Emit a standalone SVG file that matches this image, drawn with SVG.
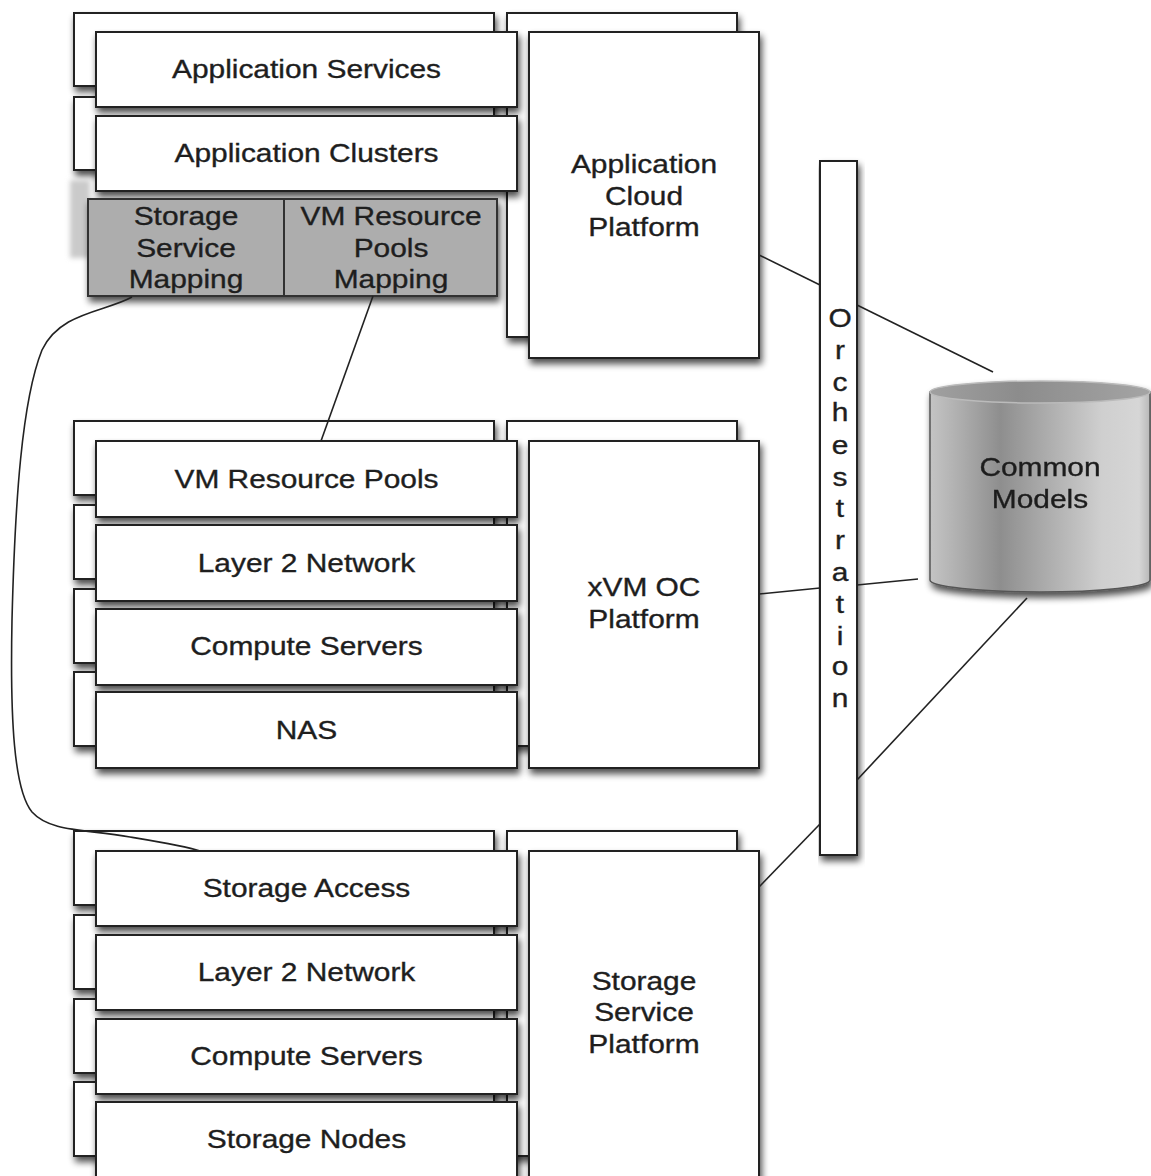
<svg xmlns="http://www.w3.org/2000/svg" width="1151" height="1176" viewBox="0 0 1151 1176">
<defs>
<filter id="sh" x="-10%" y="-10%" width="130%" height="130%">
<feGaussianBlur in="SourceAlpha" stdDeviation="3.5"/>
<feOffset dx="2" dy="5" result="o"/>
<feComponentTransfer><feFuncA type="linear" slope="0.7"/></feComponentTransfer>
<feMerge><feMergeNode/><feMergeNode in="SourceGraphic"/></feMerge>
</filter>
<filter id="blur" x="-50%" y="-20%" width="200%" height="140%"><feGaussianBlur stdDeviation="2.5"/></filter>
<linearGradient id="cyl" x1="0" y1="0" x2="1" y2="0">
<stop offset="0" stop-color="#c4c4c4"/>
<stop offset="0.1" stop-color="#b4b4b4"/>
<stop offset="0.32" stop-color="#8e8e8e"/>
<stop offset="0.5" stop-color="#a8a8a8"/>
<stop offset="0.78" stop-color="#cfcfcf"/>
<stop offset="0.95" stop-color="#d6d6d6"/>
<stop offset="1" stop-color="#b8b8b8"/>
</linearGradient>
<linearGradient id="cyltop" x1="0" y1="0" x2="1" y2="0">
<stop offset="0" stop-color="#a0a0a0"/>
<stop offset="0.4" stop-color="#8c8c8c"/>
<stop offset="1" stop-color="#a4a4a4"/>
</linearGradient>
</defs>
<style>
.b{fill:#fff;stroke:#222;stroke-width:2;filter:url(#sh)}
.g{fill:#adadad;stroke:#333;stroke-width:2}
.t{font-family:"Liberation Sans",Arial,sans-serif;font-size:26px;fill:#1e1e1e;stroke:#1e1e1e;stroke-width:0.35;text-anchor:middle}
.c{fill:none;stroke:#222;stroke-width:1.6}
</style>
<rect width="1151" height="1176" fill="#fff"/>

<!-- Top block -->
<g id="top-back">
<rect class="b" x="74" y="13" width="420" height="73"/>
<rect class="b" x="74" y="97" width="420" height="73"/>
<rect class="b" x="507" y="13" width="230" height="324"/>
</g>
<rect x="70" y="180" width="20" height="78" fill="#cacaca" filter="url(#blur)"/>
<g id="application-services">
<rect class="b" x="96" y="32" width="421" height="75"/>
<text class="t" transform="translate(306.5,78) scale(1.15,1)">Application Services</text>
</g>
<g id="application-clusters">
<rect class="b" x="96" y="116" width="421" height="75"/>
<text class="t" transform="translate(306.5,162) scale(1.15,1)">Application Clusters</text>
</g>
<g id="mapping" filter="url(#sh)">
<rect class="g" x="88" y="199" width="196" height="97"/>
<rect class="g" x="284" y="199" width="213" height="97"/>
</g>
<g id="storage-service-mapping">
<text class="t" transform="translate(186,225) scale(1.15,1)">Storage</text>
<text class="t" transform="translate(186,257) scale(1.15,1)">Service</text>
<text class="t" transform="translate(186,288) scale(1.15,1)">Mapping</text>
</g>
<g id="vm-resource-pools-mapping">
<text class="t" transform="translate(391,225) scale(1.15,1)">VM Resource</text>
<text class="t" transform="translate(391,257) scale(1.15,1)">Pools</text>
<text class="t" transform="translate(391,288) scale(1.15,1)">Mapping</text>
</g>
<g id="application-cloud-platform">
<rect class="b" x="529" y="32" width="230" height="326"/>
<text class="t" transform="translate(644,173) scale(1.15,1)">Application</text>
<text class="t" transform="translate(644,205) scale(1.15,1)">Cloud</text>
<text class="t" transform="translate(644,236) scale(1.15,1)">Platform</text>
</g>

<!-- Middle block -->
<g id="mid-back">
<rect class="b" x="74" y="421" width="420" height="74"/>
<rect class="b" x="74" y="505" width="420" height="74"/>
<rect class="b" x="74" y="589" width="420" height="74"/>
<rect class="b" x="74" y="672" width="420" height="74"/>
<rect class="b" x="507" y="421" width="230" height="325"/>
</g>
<g id="vm-resource-pools">
<rect class="b" x="96" y="441" width="421" height="76"/>
<text class="t" transform="translate(306.5,488) scale(1.15,1)">VM Resource Pools</text>
</g>
<g id="layer2-network-mid">
<rect class="b" x="96" y="525" width="421" height="76"/>
<text class="t" transform="translate(306.5,572) scale(1.15,1)">Layer 2 Network</text>
</g>
<g id="compute-servers-mid">
<rect class="b" x="96" y="609" width="421" height="76"/>
<text class="t" transform="translate(306.5,655) scale(1.15,1)">Compute Servers</text>
</g>
<g id="nas">
<rect class="b" x="96" y="692" width="421" height="76"/>
<text class="t" transform="translate(306.5,739) scale(1.15,1)">NAS</text>
</g>
<g id="xvm-oc-platform">
<rect class="b" x="529" y="441" width="230" height="327"/>
<text class="t" transform="translate(644,596) scale(1.15,1)">xVM OC</text>
<text class="t" transform="translate(644,628) scale(1.15,1)">Platform</text>
</g>

<!-- Bottom block -->
<g id="bottom-back">
<rect class="b" x="74" y="831" width="420" height="74"/>
<rect class="b" x="74" y="915" width="420" height="74"/>
<rect class="b" x="74" y="999" width="420" height="74"/>
<rect class="b" x="74" y="1082" width="420" height="74"/>
<rect class="b" x="507" y="831" width="230" height="325"/>
</g>
<g id="storage-access">
<rect class="b" x="96" y="851" width="421" height="75"/>
<text class="t" transform="translate(306.5,897) scale(1.15,1)">Storage Access</text>
</g>
<g id="layer2-network-bottom">
<rect class="b" x="96" y="935" width="421" height="75"/>
<text class="t" transform="translate(306.5,981) scale(1.15,1)">Layer 2 Network</text>
</g>
<g id="compute-servers-bottom">
<rect class="b" x="96" y="1019" width="421" height="75"/>
<text class="t" transform="translate(306.5,1065) scale(1.15,1)">Compute Servers</text>
</g>
<g id="storage-nodes">
<rect class="b" x="96" y="1102" width="421" height="85"/>
<text class="t" transform="translate(306.5,1148) scale(1.15,1)">Storage Nodes</text>
</g>
<g id="storage-service-platform">
<rect class="b" x="529" y="851" width="230" height="336"/>
<text class="t" transform="translate(644,990) scale(1.15,1)">Storage</text>
<text class="t" transform="translate(644,1021) scale(1.15,1)">Service</text>
<text class="t" transform="translate(644,1053) scale(1.15,1)">Platform</text>
</g>

<!-- Orchestration -->
<g id="orchestration">
<rect class="b" x="820" y="161" width="37" height="694"/>
<text class="t" transform="translate(840,327) scale(1.15,1)">O</text>
<text class="t" transform="translate(840,359) scale(1.15,1)">r</text>
<text class="t" transform="translate(840,391) scale(1.15,1)">c</text>
<text class="t" transform="translate(840,421) scale(1.15,1)">h</text>
<text class="t" transform="translate(840,454) scale(1.15,1)">e</text>
<text class="t" transform="translate(840,486) scale(1.15,1)">s</text>
<text class="t" transform="translate(840,517) scale(1.15,1)">t</text>
<text class="t" transform="translate(840,549) scale(1.15,1)">r</text>
<text class="t" transform="translate(840,581) scale(1.15,1)">a</text>
<text class="t" transform="translate(840,613) scale(1.15,1)">t</text>
<text class="t" transform="translate(840,645) scale(1.15,1)">i</text>
<text class="t" transform="translate(840,675) scale(1.15,1)">o</text>
<text class="t" transform="translate(840,707) scale(1.15,1)">n</text>
</g>

<!-- Common Models -->
<g id="common-models" filter="url(#sh)">
<path d="M930,392 L930,580 A110,12 0 0 0 1150,580 L1150,392 Z" fill="url(#cyl)" stroke="#555" stroke-width="1.5"/>
<ellipse cx="1040" cy="392" rx="110" ry="11" fill="url(#cyltop)" stroke="#bbb" stroke-width="1.5"/>
<text class="t" transform="translate(1040,476) scale(1.15,1)">Common</text>
<text class="t" transform="translate(1040,508) scale(1.15,1)">Models</text>
</g>

<!-- Connectors -->
<g id="connectors">
<line class="c" x1="759" y1="255" x2="820" y2="285"/>
<line class="c" x1="857" y1="305" x2="993" y2="372"/>
<line class="c" x1="759" y1="594" x2="820" y2="588"/>
<line class="c" x1="857" y1="585" x2="918" y2="579"/>
<line class="c" x1="857" y1="780" x2="1027" y2="598"/>
<line class="c" x1="759" y1="887" x2="820" y2="824"/>
<line class="c" x1="373" y1="296" x2="321" y2="441"/>
<path class="c" d="M132,297 C105,312 60,312 42,350 C22,400 15,500 12,620 C10,720 14,790 32,812 C50,832 85,829 130,837 C160,842 185,846 200,851"/>
</g>
</svg>
